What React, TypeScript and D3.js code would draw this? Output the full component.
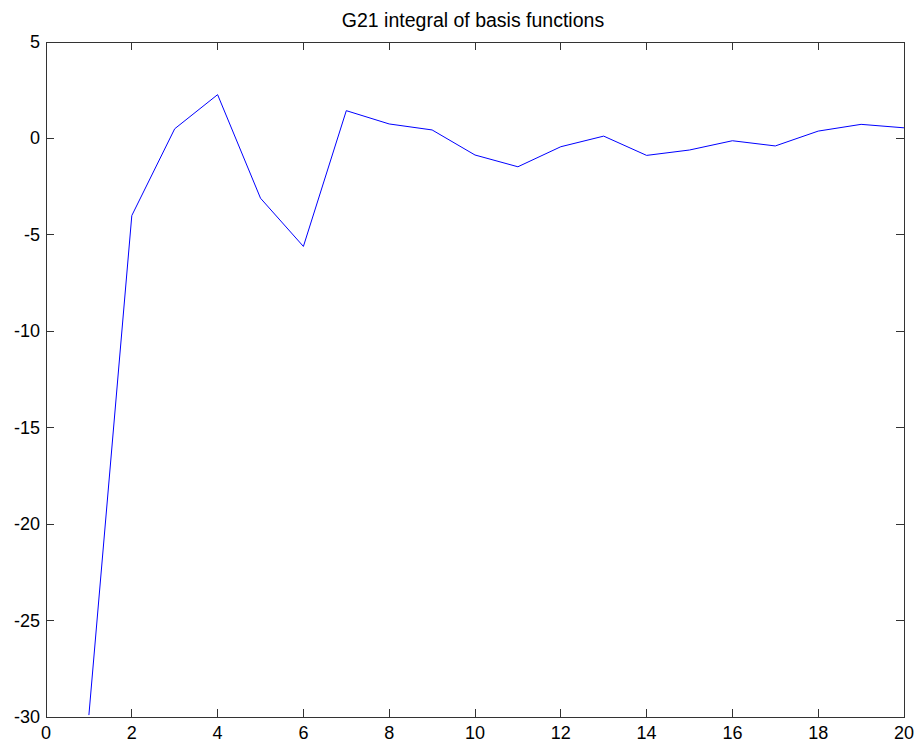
import React from "react";
import * as d3 from "d3";

const xValues = [1, 2, 3, 4, 5, 6, 7, 8, 9, 10, 11, 12, 13, 14, 15, 16, 17, 18, 19, 20];
const yValues = [-29.9, -4.0, 0.5, 2.27, -3.1, -5.6, 1.44, 0.75, 0.44, -0.86, -1.47, -0.43, 0.12, -0.88, -0.6, -0.12, -0.39, 0.38, 0.73, 0.55];
const xTicks = [0, 2, 4, 6, 8, 10, 12, 14, 16, 18, 20];
const yTicks = [5, 0, -5, -10, -15, -20, -25, -30];
const titleText = "G21 integral of basis functions";

const W = 921;
const H = 747;
const left = 46;
const right = 904;
const top = 42;
const bottom = 717;
const tickLen = 8;
const font = "'Liberation Sans', Arial, Helvetica, sans-serif";

export default function App() {
  const x = d3.scaleLinear().domain([0, 20]).range([left, right]);
  const y = d3.scaleLinear().domain([-30, 5]).range([bottom, top]);
  const line = d3
    .line<number>()
    .x((_, i) => x(xValues[i]))
    .y((d) => y(d));

  return (
    <svg
      width={W}
      height={H}
      style={{ position: "absolute", left: 0, top: 0, background: "#fff" }}
      fontFamily={font}
    >
      <rect x={0} y={0} width={W} height={H} fill="#fff" />
      <text x={473} y={27} textAnchor="middle" fontSize={19.5} fill="#000">
        {titleText}
      </text>
      <path d={line(yValues) ?? ""} fill="none" stroke="#0000ff" strokeWidth={1} />
      <rect
        x={left}
        y={top}
        width={right - left}
        height={bottom - top}
        fill="none"
        stroke="#333"
        strokeWidth={1}
        shapeRendering="crispEdges"
      />
      {xTicks.map((t) => (
        <g key={"x" + t} shapeRendering="crispEdges">
          <line x1={x(t)} x2={x(t)} y1={bottom} y2={bottom - tickLen} stroke="#333" />
          <line x1={x(t)} x2={x(t)} y1={top} y2={top + tickLen} stroke="#333" />
          <text x={x(t)} y={bottom + 22} textAnchor="middle" fontSize={18} fill="#000">
            {t}
          </text>
        </g>
      ))}
      {yTicks.map((t) => (
        <g key={"y" + t} shapeRendering="crispEdges">
          <line x1={left} x2={left + tickLen} y1={y(t)} y2={y(t)} stroke="#333" />
          <line x1={right} x2={right - tickLen} y1={y(t)} y2={y(t)} stroke="#333" />
          <text x={left - 6} y={y(t) + 6} textAnchor="end" fontSize={18} fill="#000">
            {t}
          </text>
        </g>
      ))}
    </svg>
  );
}
